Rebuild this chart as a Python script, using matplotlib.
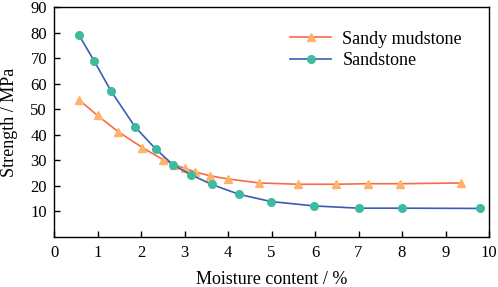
import matplotlib
matplotlib.use("Agg")
import matplotlib.pyplot as plt

plt.rcParams['font.family'] = ['Liberation Serif', 'DejaVu Serif']

# Data
sand_x = [0.57, 0.92, 1.31, 1.86, 2.34, 2.74, 3.16, 3.63, 4.26, 4.99, 5.97, 7.0, 8.0, 9.79]
sand_y = [79.3, 69.1, 57.2, 43.2, 34.4, 28.2, 24.2, 20.5, 16.6, 13.8, 12.1, 11.2, 11.2, 11.1]
mud_x = [0.57, 1.0, 1.47, 2.03, 2.51, 2.76, 3.0, 3.25, 3.59, 3.99, 4.72, 5.62, 6.48, 7.21, 7.95, 9.36]
mud_y = [53.8, 47.6, 41.3, 35.0, 30.2, 28.3, 26.9, 25.4, 23.9, 22.7, 21.1, 20.6, 20.6, 20.8, 20.8, 21.1]

x_ticks = [0, 1, 2, 3, 4, 5, 6, 7, 8, 9, 10]
y_ticks = [10, 20, 30, 40, 50, 60, 70, 80, 90]

fig = plt.figure(figsize=(4.98, 2.87), dpi=100)
ax = fig.add_axes([54/498, 1-236.7/287, (489-54)/498, (236.7-7.5)/287])

ax.plot(mud_x, mud_y, color='#fa6a4a', lw=1.2, marker='^', ms=5.5,
        mfc='#ffb36a', mec='#ffb36a', label='Sandy mudstone')
ax.plot(sand_x, sand_y, color='#3a5cb8', lw=1.2, marker='o', ms=5.5,
        mfc='#3dbb9c', mec='#3dbb9c', label='Sandstone')

ax.set_xlim(0, 10)
ax.set_ylim(0, 90)
ax.set_xticks(x_ticks)
ax.set_yticks(y_ticks)
ax.tick_params(direction='in', length=4, width=1, labelsize=12, colors='black')
ax.tick_params(axis='x', pad=6)
ax.tick_params(axis='y', pad=5)
for s in ax.spines.values():
    s.set_linewidth(1)
ax.set_xlabel('Moisture content / %', fontsize=13, labelpad=7)
ax.set_ylabel('Strength / MPa', fontsize=13, labelpad=9)

ax.legend(loc='upper right', bbox_to_anchor=(0.975, 0.97), frameon=False,
          fontsize=13, handlelength=2.3, handletextpad=0.6, labelspacing=0.25)

fig.savefig('out.png', dpi=100)
